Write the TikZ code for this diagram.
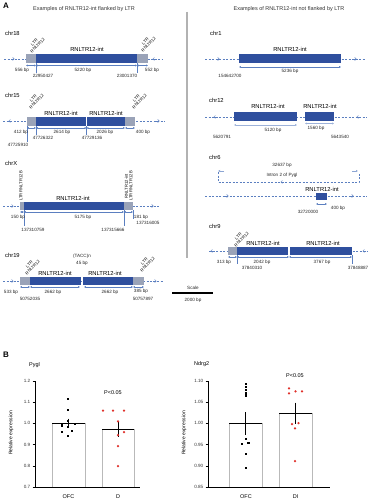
\documentclass[tikz,border=0pt]{standalone}
\usepackage{fontspec}
\setmainfont{Liberation Sans}
\usetikzlibrary{arrows.meta}
\definecolor{intblue}{HTML}{2F4F9E}
\definecolor{ltrgray}{HTML}{9AA3B8}
\definecolor{lineblue}{HTML}{5B7FC0}
\definecolor{dotred}{HTML}{E0302A}
\newcommand\dirR[2]{\draw[dirmark] ({#1-2},#2)--({#1+1.5},#2);}
\newcommand\dirL[2]{\draw[dirmark] ({#1+2},#2)--({#1-1.5},#2);}
\newcommand\bsq[2]{\fill[black] ({#1-1.1},{#2-1.1}) rectangle ({#1+1.1},{#2+1.1});}
\newcommand\rdot[2]{\fill[dotred] (#1,#2) circle (1.25);}
\begin{document}
\begin{tikzpicture}[x=1pt,y=-1pt,
 sm/.style={font=\fontsize{4.6}{5}\selectfont, inner sep=0.3pt, text=black!85},
 md/.style={font=\fontsize{5.8}{6.2}\selectfont, inner sep=0.3pt},
 ttl/.style={font=\fontsize{5.5}{6}\selectfont, inner sep=0.3pt, text=black!80},
 rot/.style={font=\fontsize{4.2}{4.5}\selectfont, inner sep=0.2pt, align=center},
 chrlab/.style={font=\fontsize{5.8}{6}\selectfont, anchor=west, inner sep=0},
 panel/.style={font=\fontsize{8}{8}\selectfont\bfseries, inner sep=0},
 intbox/.style={fill=intblue},
 ltrbox/.style={fill=ltrgray},
 track/.style={draw=lineblue, dash pattern=on 2pt off 1.5pt, line width=0.5pt},
 dirmark/.style={draw=lineblue, line width=0.5pt, -{Straight Barb[length=1.5pt,width=3pt]}},
 dimln/.style={draw=lineblue, line width=0.35pt, {Latex[length=1.8pt,width=2pt]}-{Latex[length=1.8pt,width=2pt]}},
 vln/.style={draw=lineblue, line width=0.3pt},
 axis/.style={draw=black, line width=0.7pt},
 bar/.style={draw=gray!55, line width=0.7pt},
 meanln/.style={draw=black, line width=0.9pt},
 tick/.style={font=\fontsize{4.6}{5}\selectfont, anchor=east, inner sep=0.5pt, text=black!80},
 xlab/.style={font=\fontsize{5.5}{6}\selectfont, inner sep=0.5pt}
]
\path[use as bounding box] (0,0) rectangle (369,500);
\fill[white] (0,0) rectangle (369,500);

% ---------- Panel A headers ----------
\node[panel] (pA) at (6,6) {A};
\node[ttl] (tL) at (84,9) {Examples of RNLTR12-int flanked by LTR};
\node[ttl] (tR) at (289,9) {Examples of RNLTR12-int not flanked by LTR};
\draw[gray!60, line width=1.2pt] (187,12) -- (187,258);

% ---------- chr18 ----------
\node[chrlab] (c18) at (5,33) {chr18};
\draw[track] (4,59)--(163,59);
\dirR{13}{59} \dirL{154}{59}
\fill[ltrbox] (26,54) rectangle (36,63);
\fill[intbox] (36,54) rectangle (137,63);
\fill[ltrbox] (137,54) rectangle (148,63);
\node[md] (i18) at (87,49) {RNLTR12-int};
\node[rot, rotate=45] (l18a) at (36,44) {LTR\\RNLTR12};
\node[rot, rotate=45] (l18b) at (147,43) {LTR\\RNLTR12};
\draw[dimln] (26,65.5)--(36,65.5);
\draw[dimln] (36,65.5)--(137,65.5);
\draw[dimln] (137,65.5)--(148,65.5);
\draw[vln] (36,63)--(36,73); \draw[vln] (137,63)--(137,73);
\node[sm] (d18a) at (22,70) {556 bp};
\node[sm] (d18b) at (83,70) {5220 bp};
\node[sm] (d18c) at (152,70) {552 bp};
\node[sm] (p18a) at (43,75.5) {22950427};
\node[sm] (p18b) at (127,75.5) {23001370};

% ---------- chr15 ----------
\node[chrlab] (c15) at (5,95) {chr15};
\draw[track] (3,121)--(165,121);
\dirL{10}{121} \dirR{158}{121}
\fill[ltrbox] (27,117) rectangle (36,126);
\fill[intbox] (36,117) rectangle (86,126);
\fill[intbox] (87,117) rectangle (125,126);
\fill[ltrbox] (125,117) rectangle (135,126);
\node[md] (i15a) at (61,113) {RNLTR12-int};
\node[md] (i15b) at (106,113) {RNLTR12-int};
\node[rot, rotate=45] (l15a) at (35,100) {LTR\\RNLTR12};
\node[rot, rotate=45] (l15b) at (138,100) {LTR\\RNLTR12};
\draw[dimln] (27,128)--(36,128);
\draw[dimln] (36,128)--(86.5,128);
\draw[dimln] (86.5,128)--(125,128);
\draw[dimln] (125,128)--(135,128);
\draw[vln] (27,126)--(27,142); \draw[vln] (36,126)--(36,135); \draw[vln] (86.5,126)--(86.5,135);
\node[sm] (d15a) at (21,132) {412 bp};
\node[sm] (d15b) at (62,132) {2614 bp};
\node[sm] (d15c) at (105,132) {2026 bp};
\node[sm] (d15d) at (143,132) {400 bp};
\node[sm] (p15a) at (43,138) {47726322};
\node[sm] (p15b) at (92,138) {47729136};
\node[sm] (p15c) at (18,145) {47725910};

% ---------- chrX ----------
\node[chrlab] (cX) at (5,163) {chrX};
\draw[track] (3,206)--(160,206);
\dirR{12}{206} \dirR{152}{206}
\fill[ltrbox] (20,202) rectangle (24,210);
\fill[intbox] (24,202) rectangle (124,210);
\fill[ltrbox] (124,202) rectangle (133,210);
\node[md] (iX) at (73,198) {RNLTR12-int};
\node[rot, rotate=90] (lXa) at (21,186) {LTR RNLTR12B};
\node[rot, rotate=90] (lXb) at (128.5,186) {RNLTR12-int\\LTR RNLTR12B};
\draw[dimln] (20,212)--(24,212);
\draw[dimln] (24,212)--(124,212);
\draw[dimln] (124,212)--(133,212);
\draw[vln] (24,210)--(24,226); \draw[vln] (124,210)--(124,226); \draw[vln] (133,210)--(133,219);
\node[sm] (dXa) at (18,217) {150 bp};
\node[sm] (dXb) at (83,217) {5175 bp};
\node[sm] (dXc) at (141,217) {181 bp};
\node[sm] (pXc) at (148,223) {137316005};
\node[sm] (pXa) at (33,230) {137310759};
\node[sm] (pXb) at (113,230) {137315666};

% ---------- chr19 ----------
\node[chrlab] (c19) at (5,255) {chr19};
\node[sm] (m19a) at (82,256) {(TACC)n};
\node[sm] (m19b) at (82,263) {45 bp};
\draw[track] (3,281)--(163,281);
\dirR{12}{281} \dirR{155}{281}
\fill[ltrbox] (20,277) rectangle (30,285);
\fill[intbox] (30,277) rectangle (81,285);
\fill[intbox] (83,277) rectangle (133,285);
\fill[ltrbox] (133,277) rectangle (144,285);
\node[md] (i19a) at (55,273) {RNLTR12-int};
\node[md] (i19b) at (105,273) {RNLTR12-int};
\node[rot, rotate=45] (l19a) at (31,266) {LTR\\RNLTR12};
\node[rot, rotate=45] (l19b) at (146,263) {LTR\\RNLTR12};
\draw[dimln] (20,287)--(30,287);
\draw[dimln] (30,287)--(80,287);
\draw[dimln] (84,287)--(133,287);
\draw[dimln] (133,287)--(144,287);
\node[sm] (d19a) at (11,292) {533 bp};
\node[sm] (d19b) at (53,292) {2662 bp};
\node[sm] (d19c) at (110,292) {2662 bp};
\node[sm] (d19d) at (141,291.5) {385 bp};
\node[sm] (p19a) at (30,299) {50752035};
\node[sm] (p19b) at (143,299) {50757897};

% ---------- scale ----------
\node[sm] (sc) at (193,287.5) {Scale};
\draw[black, line width=1.3pt] (172,293)--(213,293);
\node[sm] (scl) at (193,300) {2000 bp};

% ---------- chr1 ----------
\node[chrlab] (c1) at (210,33) {chr1};
\draw[track] (205,59)--(365,59);
\dirR{218}{59} \dirR{355}{59}
\fill[intbox] (239,54) rectangle (341,63);
\node[md] (i1) at (290,49) {RNLTR12-int};
\draw[dimln] (239,67)--(341,67);
\node[sm] (d1) at (290,71) {5236 bp};
\node[sm] (p1) at (230,76) {154642700};

% ---------- chr12 ----------
\node[chrlab] (c12) at (209,100) {chr12};
\draw[track] (205,117)--(367,117);
\dirL{215}{117} \dirL{358}{117}
\fill[intbox] (234,112.5) rectangle (297,121);
\fill[intbox] (305,112.5) rectangle (334,121);
\node[md] (i12a) at (268,106) {RNLTR12-int};
\node[md] (i12b) at (320,106) {RNLTR12-int};
\draw[dimln, draw=lineblue!60] (234,125)--(297,125);
\draw[dimln, draw=lineblue!60] (305,123.5)--(334,123.5);
\node[sm] (d12a) at (273,130) {5120 bp};
\node[sm] (d12b) at (316,128) {1560 bp};
\node[sm] (p12a) at (222,137) {5620791};
\node[sm] (p12b) at (340,137) {5643540};

% ---------- chr6 ----------
\node[chrlab] (c6) at (209,157) {chr6};
\node[sm] (d6i) at (282,165) {32637 bp};
\draw[draw=lineblue!70, line width=0.4pt, -{Latex[length=2pt,width=2.2pt]}] (224,171)--(218,171);
\draw[draw=lineblue!70, line width=0.4pt, -{Latex[length=2pt,width=2.2pt]}] (352,171)--(358,171);
\node[sm] (t6i) at (282,175) {Intron 2 of Pygl};
\draw[track, line width=0.4pt] (218,172)--(218,182)--(359,182)--(359,172);
\dirL{282}{182}
\draw[track] (205,196)--(367,196);
\dirR{227}{196} \dirR{352}{196}
\fill[intbox] (316,192.5) rectangle (327,199.5);
\node[md] (i6) at (322,189) {RNLTR12-int};
\draw[dimln] (316,204)--(327,204);
\node[sm] (d6) at (338,208) {400 bp};
\node[sm] (p6) at (308,212) {32720000};

% ---------- chr9 ----------
\node[chrlab] (c9) at (209,226) {chr9};
\draw[track] (209,251)--(367,251);
\dirL{212}{251} \dirL{364}{251}
\fill[ltrbox] (228,247) rectangle (237,255);
\fill[intbox] (237,247) rectangle (288,255);
\fill[intbox] (290,247) rectangle (352,255);
\node[md] (i9a) at (263,243) {RNLTR12-int};
\node[md] (i9b) at (323,243) {RNLTR12-int};
\node[rot, rotate=45] (l9) at (240,238) {LTR\\RNLTR12};
\draw[dimln] (228,257)--(237,257);
\draw[dimln] (237,257)--(289,257);
\draw[dimln] (289,257)--(352,257);
\draw[vln] (237,255)--(237,264); \draw[vln] (352,255)--(352,264);
\node[sm] (d9a) at (224,262) {313 bp};
\node[sm] (d9b) at (262,262) {2042 bp};
\node[sm] (d9c) at (322,262) {3767 bp};
\node[sm] (p9a) at (252,267.5) {37840310};
\node[sm] (p9b) at (358,267.5) {37848887};

% ---------- Panel B ----------
\node[panel] (pB) at (6,355) {B};

% Pygl chart
\node[font=\fontsize{5.5}{6}\selectfont, anchor=west, inner sep=0] (gP) at (29,365) {Pygl};
\node[font=\fontsize{5}{5}\selectfont, rotate=90, inner sep=0] (yP) at (11,433) {Relative expression};
\draw[axis] (35,381)--(35,487)--(140,487);
\foreach \yy/\lab in {381/1.2,402.2/1.1,423.4/1.0,444.6/0.9,465.8/0.8,487/0.7}{
  \draw[axis, line width=0.6pt] (32.5,\yy)--(35,\yy);
  \node[tick] at (31,\yy) {\lab};
}
\draw[bar] (52,487)--(52,423.4)--(85,423.4)--(85,487);
\draw[bar] (102,487)--(102,429)--(134,429)--(134,487);
\draw[meanln] (52,423.4)--(85,423.4);
\draw[meanln] (102,429)--(134,429);
\draw[black, line width=0.8pt] (68.5,418.5)--(68.5,428);
\draw[black, line width=0.8pt] (118,421.5)--(118,437);
\bsq{68.3}{399.3} \bsq{68.3}{410} \bsq{68.3}{420.7} \bsq{61.7}{425.5}
\bsq{75}{424} \bsq{68.3}{427} \bsq{61.7}{431.7} \bsq{72}{431} \bsq{68.3}{436}
\rdot{103}{410.7} \rdot{113}{410.7} \rdot{124}{410.7} \rdot{118}{421.3}
\rdot{124}{432} \rdot{118}{435} \rdot{118}{446} \rdot{118}{466}
\node[xlab] (sP) at (113,393) {P<0.05};
\node[xlab] (xP1) at (68.5,497) {OFC};
\node[xlab] (xP2) at (118,497) {D};

% Ndrg2 chart
\node[font=\fontsize{5.5}{6}\selectfont, anchor=west, inner sep=0] (gN) at (194,364) {Ndrg2};
\node[font=\fontsize{5}{5}\selectfont, rotate=90, inner sep=0] (yN) at (184,433) {Relative expression};
\draw[axis] (208,381)--(208,487)--(330,487);
\foreach \yy/\lab in {381/1.10,402.2/1.05,423.4/1.00,444.6/0.95,465.8/0.90,487/0.85}{
  \draw[axis, line width=0.6pt] (205.5,\yy)--(208,\yy);
  \node[tick] at (204,\yy) {\lab};
}
\draw[bar] (229,487)--(229,423.4)--(262,423.4)--(262,487);
\draw[bar] (279,487)--(279,413)--(312,413)--(312,487);
\draw[meanln] (229,423.4)--(262,423.4);
\draw[meanln] (279,413)--(312,413);
\draw[black, line width=0.8pt] (245.5,412)--(245.5,435);
\draw[black, line width=0.8pt] (295.5,402.5)--(295.5,423.5);
\bsq{246}{384} \bsq{246}{387} \bsq{246}{390} \bsq{246}{393} \bsq{246}{395.5}
\bsq{246}{439.3} \bsq{242}{444} \bsq{248.5}{443} \bsq{246}{454} \bsq{246}{468}
\rdot{289}{388.3} \rdot{289}{393.3} \rdot{295.5}{391.3} \rdot{302}{391.3}
\rdot{292}{424} \rdot{298.5}{423} \rdot{295}{428.3} \rdot{295}{461}
\node[xlab] (sN) at (295,376) {P<0.05};
\node[xlab] (xN1) at (246,497) {OFC};
\node[xlab] (xN2) at (295.5,497) {DI};
\end{tikzpicture}
\end{document}
